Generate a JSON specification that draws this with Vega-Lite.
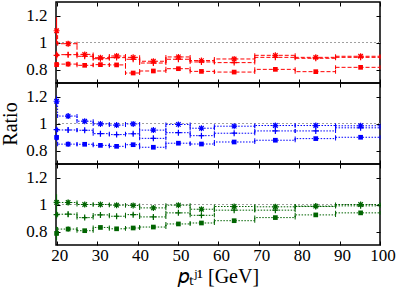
{
  "$schema": "https://vega.github.io/schema/vega-lite/v6.json",
  "background": "white",
  "padding": {"left": 0, "top": 0, "right": 0, "bottom": 0},
  "spacing": 0,
  "bounds": "flush",
  "config": {
    "view": {"stroke": "black", "strokeWidth": 1.5},
    "font": "Liberation Serif",
    "axis": {"labelFont": "Liberation Serif", "labelFontSize": 17, "labelColor": "black", "labelFlush": false, "tickColor": "black", "tickWidth": 1, "titleFont": "Liberation Serif", "titleFontSize": 20, "titleFontWeight": "normal", "titleColor": "black", "grid": false, "domain": false, "minExtent": 0}
  },
  "datasets": {
    "d": [
      {"p":"r","s":"A","lo":19.8,"x":19.95,"hi":20.2,"y":1.087,"ylo":0.987,"yhi":1.187},
      {"p":"r","s":"A","lo":20.2,"x":22.8,"hi":25,"y":0.991,"ylo":0.971,"yhi":1.011},
      {"p":"r","s":"A","lo":25,"x":26.9,"hi":29,"y":0.912,"ylo":0.9,"yhi":0.924},
      {"p":"r","s":"A","lo":29,"x":30.8,"hi":33,"y":0.887,"ylo":0.875,"yhi":0.899},
      {"p":"r","s":"A","lo":33,"x":34.8,"hi":37,"y":0.9,"ylo":0.888,"yhi":0.912},
      {"p":"r","s":"A","lo":37,"x":38.9,"hi":40.5,"y":0.89,"ylo":0.878,"yhi":0.902},
      {"p":"r","s":"A","lo":40.5,"x":43.9,"hi":47,"y":0.861,"ylo":0.849,"yhi":0.873},
      {"p":"r","s":"A","lo":47,"x":50.1,"hi":53,"y":0.893,"ylo":0.881,"yhi":0.905},
      {"p":"r","s":"A","lo":53,"x":55.8,"hi":59,"y":0.866,"ylo":0.858,"yhi":0.874},
      {"p":"r","s":"A","lo":59,"x":63.9,"hi":69,"y":0.878,"ylo":0.87,"yhi":0.886},
      {"p":"r","s":"A","lo":69,"x":74.1,"hi":79,"y":0.905,"ylo":0.897,"yhi":0.913},
      {"p":"r","s":"A","lo":79,"x":84.1,"hi":89,"y":0.89,"ylo":0.882,"yhi":0.898},
      {"p":"r","s":"A","lo":89,"x":95.2,"hi":100,"y":0.898,"ylo":0.89,"yhi":0.906},

      {"p":"r","s":"B","lo":19.8,"x":19.95,"hi":20.2,"y":0.905,"ylo":0.875,"yhi":0.935},
      {"p":"r","s":"B","lo":20.2,"x":22.8,"hi":25,"y":0.91,"ylo":0.89,"yhi":0.93},
      {"p":"r","s":"B","lo":25,"x":26.9,"hi":29,"y":0.898,"ylo":0.886,"yhi":0.91},
      {"p":"r","s":"B","lo":29,"x":30.8,"hi":33,"y":0.88,"ylo":0.868,"yhi":0.892},
      {"p":"r","s":"B","lo":33,"x":34.8,"hi":37,"y":0.888,"ylo":0.876,"yhi":0.9},
      {"p":"r","s":"B","lo":37,"x":38.9,"hi":40.5,"y":0.876,"ylo":0.864,"yhi":0.888},
      {"p":"r","s":"B","lo":40.5,"x":43.9,"hi":47,"y":0.848,"ylo":0.836,"yhi":0.86},
      {"p":"r","s":"B","lo":47,"x":50.1,"hi":53,"y":0.876,"ylo":0.864,"yhi":0.888},
      {"p":"r","s":"B","lo":53,"x":55.8,"hi":59,"y":0.856,"ylo":0.848,"yhi":0.864},
      {"p":"r","s":"B","lo":59,"x":63.9,"hi":69,"y":0.851,"ylo":0.843,"yhi":0.859},
      {"p":"r","s":"B","lo":69,"x":74.1,"hi":79,"y":0.89,"ylo":0.882,"yhi":0.898},
      {"p":"r","s":"B","lo":79,"x":84.1,"hi":89,"y":0.883,"ylo":0.875,"yhi":0.891},
      {"p":"r","s":"B","lo":89,"x":95.2,"hi":100,"y":0.89,"ylo":0.882,"yhi":0.898},

      {"p":"r","s":"C","lo":19.8,"x":19.95,"hi":20.2,"y":0.836,"ylo":0.816,"yhi":0.856},
      {"p":"r","s":"C","lo":20.2,"x":22.8,"hi":25,"y":0.84,"ylo":0.82,"yhi":0.86},
      {"p":"r","s":"C","lo":25,"x":26.9,"hi":29,"y":0.831,"ylo":0.819,"yhi":0.843},
      {"p":"r","s":"C","lo":29,"x":30.8,"hi":33,"y":0.836,"ylo":0.824,"yhi":0.848},
      {"p":"r","s":"C","lo":33,"x":34.8,"hi":37,"y":0.834,"ylo":0.822,"yhi":0.846},
      {"p":"r","s":"C","lo":37,"x":38.9,"hi":40.5,"y":0.774,"ylo":0.762,"yhi":0.786},
      {"p":"r","s":"C","lo":40.5,"x":43.9,"hi":47,"y":0.789,"ylo":0.777,"yhi":0.801},
      {"p":"r","s":"C","lo":47,"x":50.1,"hi":53,"y":0.806,"ylo":0.794,"yhi":0.818},
      {"p":"r","s":"C","lo":53,"x":55.8,"hi":59,"y":0.786,"ylo":0.778,"yhi":0.794},
      {"p":"r","s":"C","lo":59,"x":63.9,"hi":69,"y":0.781,"ylo":0.773,"yhi":0.789},
      {"p":"r","s":"C","lo":69,"x":74.1,"hi":79,"y":0.801,"ylo":0.793,"yhi":0.809},
      {"p":"r","s":"C","lo":79,"x":84.1,"hi":89,"y":0.784,"ylo":0.776,"yhi":0.792},
      {"p":"r","s":"C","lo":89,"x":95.2,"hi":100,"y":0.816,"ylo":0.808,"yhi":0.824},

      {"p":"b","s":"A","lo":19.8,"x":19.95,"hi":20.2,"y":1.165,"ylo":1.125,"yhi":1.205},
      {"p":"b","s":"A","lo":20.2,"x":22.8,"hi":25,"y":1.055,"ylo":1.035,"yhi":1.075},
      {"p":"b","s":"A","lo":25,"x":26.9,"hi":29,"y":1.017,"ylo":1.005,"yhi":1.029},
      {"p":"b","s":"A","lo":29,"x":30.8,"hi":33,"y":0.997,"ylo":0.985,"yhi":1.009},
      {"p":"b","s":"A","lo":33,"x":34.8,"hi":37,"y":0.988,"ylo":0.976,"yhi":1.0},
      {"p":"b","s":"A","lo":37,"x":38.9,"hi":40.5,"y":0.997,"ylo":0.985,"yhi":1.009},
      {"p":"b","s":"A","lo":40.5,"x":43.9,"hi":47,"y":0.951,"ylo":0.939,"yhi":0.963},
      {"p":"b","s":"A","lo":47,"x":50.1,"hi":53,"y":0.993,"ylo":0.981,"yhi":1.005},
      {"p":"b","s":"A","lo":53,"x":55.8,"hi":59,"y":0.965,"ylo":0.957,"yhi":0.973},
      {"p":"b","s":"A","lo":59,"x":63.9,"hi":69,"y":0.98,"ylo":0.972,"yhi":0.988},
      {"p":"b","s":"A","lo":69,"x":74.1,"hi":79,"y":0.985,"ylo":0.977,"yhi":0.993},
      {"p":"b","s":"A","lo":79,"x":84.1,"hi":89,"y":0.985,"ylo":0.977,"yhi":0.993},
      {"p":"b","s":"A","lo":89,"x":95.2,"hi":100,"y":0.983,"ylo":0.975,"yhi":0.991},

      {"p":"b","s":"B","lo":19.8,"x":19.95,"hi":20.2,"y":0.954,"ylo":0.934,"yhi":0.974},
      {"p":"b","s":"B","lo":20.2,"x":22.8,"hi":25,"y":0.952,"ylo":0.932,"yhi":0.972},
      {"p":"b","s":"B","lo":25,"x":26.9,"hi":29,"y":0.95,"ylo":0.938,"yhi":0.962},
      {"p":"b","s":"B","lo":29,"x":30.8,"hi":33,"y":0.925,"ylo":0.913,"yhi":0.937},
      {"p":"b","s":"B","lo":33,"x":34.8,"hi":37,"y":0.918,"ylo":0.906,"yhi":0.93},
      {"p":"b","s":"B","lo":37,"x":38.9,"hi":40.5,"y":0.924,"ylo":0.912,"yhi":0.936},
      {"p":"b","s":"B","lo":40.5,"x":43.9,"hi":47,"y":0.89,"ylo":0.878,"yhi":0.902},
      {"p":"b","s":"B","lo":47,"x":50.1,"hi":53,"y":0.932,"ylo":0.92,"yhi":0.944},
      {"p":"b","s":"B","lo":53,"x":55.8,"hi":59,"y":0.91,"ylo":0.902,"yhi":0.918},
      {"p":"b","s":"B","lo":59,"x":63.9,"hi":69,"y":0.928,"ylo":0.92,"yhi":0.936},
      {"p":"b","s":"B","lo":69,"x":74.1,"hi":79,"y":0.945,"ylo":0.937,"yhi":0.953},
      {"p":"b","s":"B","lo":79,"x":84.1,"hi":89,"y":0.945,"ylo":0.937,"yhi":0.953},
      {"p":"b","s":"B","lo":89,"x":95.2,"hi":100,"y":0.968,"ylo":0.96,"yhi":0.976},

      {"p":"b","s":"C","lo":19.8,"x":19.95,"hi":20.2,"y":0.897,"ylo":0.867,"yhi":0.927},
      {"p":"b","s":"C","lo":20.2,"x":22.8,"hi":25,"y":0.847,"ylo":0.827,"yhi":0.867},
      {"p":"b","s":"C","lo":25,"x":26.9,"hi":29,"y":0.846,"ylo":0.834,"yhi":0.858},
      {"p":"b","s":"C","lo":29,"x":30.8,"hi":33,"y":0.838,"ylo":0.826,"yhi":0.85},
      {"p":"b","s":"C","lo":33,"x":34.8,"hi":37,"y":0.831,"ylo":0.819,"yhi":0.843},
      {"p":"b","s":"C","lo":37,"x":38.9,"hi":40.5,"y":0.843,"ylo":0.831,"yhi":0.855},
      {"p":"b","s":"C","lo":40.5,"x":43.9,"hi":47,"y":0.824,"ylo":0.812,"yhi":0.836},
      {"p":"b","s":"C","lo":47,"x":50.1,"hi":53,"y":0.854,"ylo":0.842,"yhi":0.866},
      {"p":"b","s":"C","lo":53,"x":55.8,"hi":59,"y":0.848,"ylo":0.84,"yhi":0.856},
      {"p":"b","s":"C","lo":59,"x":63.9,"hi":69,"y":0.863,"ylo":0.855,"yhi":0.871},
      {"p":"b","s":"C","lo":69,"x":74.1,"hi":79,"y":0.876,"ylo":0.868,"yhi":0.884},
      {"p":"b","s":"C","lo":79,"x":84.1,"hi":89,"y":0.888,"ylo":0.88,"yhi":0.896},
      {"p":"b","s":"C","lo":89,"x":95.2,"hi":100,"y":0.898,"ylo":0.89,"yhi":0.906},

      {"p":"g","s":"A","lo":19.8,"x":19.95,"hi":20.2,"y":1.016,"ylo":0.956,"yhi":1.076},
      {"p":"g","s":"A","lo":20.2,"x":22.8,"hi":25,"y":1.015,"ylo":0.995,"yhi":1.035},
      {"p":"g","s":"A","lo":25,"x":26.9,"hi":29,"y":1.0,"ylo":0.988,"yhi":1.012},
      {"p":"g","s":"A","lo":29,"x":30.8,"hi":33,"y":1.0,"ylo":0.988,"yhi":1.012},
      {"p":"g","s":"A","lo":33,"x":34.8,"hi":37,"y":0.995,"ylo":0.983,"yhi":1.007},
      {"p":"g","s":"A","lo":37,"x":38.9,"hi":40.5,"y":0.993,"ylo":0.981,"yhi":1.005},
      {"p":"g","s":"A","lo":40.5,"x":43.9,"hi":47,"y":0.975,"ylo":0.963,"yhi":0.987},
      {"p":"g","s":"A","lo":47,"x":50.1,"hi":53,"y":0.995,"ylo":0.983,"yhi":1.007},
      {"p":"g","s":"A","lo":53,"x":55.8,"hi":59,"y":0.965,"ylo":0.957,"yhi":0.973},
      {"p":"g","s":"A","lo":59,"x":63.9,"hi":69,"y":0.985,"ylo":0.977,"yhi":0.993},
      {"p":"g","s":"A","lo":69,"x":74.1,"hi":79,"y":0.983,"ylo":0.975,"yhi":0.991},
      {"p":"g","s":"A","lo":79,"x":84.1,"hi":89,"y":0.988,"ylo":0.98,"yhi":0.996},
      {"p":"g","s":"A","lo":89,"x":95.2,"hi":100,"y":1.0,"ylo":0.992,"yhi":1.008},

      {"p":"g","s":"B","lo":19.8,"x":19.95,"hi":20.2,"y":0.925,"ylo":0.895,"yhi":0.955},
      {"p":"g","s":"B","lo":20.2,"x":22.8,"hi":25,"y":0.928,"ylo":0.908,"yhi":0.948},
      {"p":"g","s":"B","lo":25,"x":26.9,"hi":29,"y":0.903,"ylo":0.891,"yhi":0.915},
      {"p":"g","s":"B","lo":29,"x":30.8,"hi":33,"y":0.923,"ylo":0.911,"yhi":0.935},
      {"p":"g","s":"B","lo":33,"x":34.8,"hi":37,"y":0.913,"ylo":0.901,"yhi":0.925},
      {"p":"g","s":"B","lo":37,"x":38.9,"hi":40.5,"y":0.925,"ylo":0.913,"yhi":0.937},
      {"p":"g","s":"B","lo":40.5,"x":43.9,"hi":47,"y":0.908,"ylo":0.896,"yhi":0.92},
      {"p":"g","s":"B","lo":47,"x":50.1,"hi":53,"y":0.938,"ylo":0.926,"yhi":0.95},
      {"p":"g","s":"B","lo":53,"x":55.8,"hi":59,"y":0.92,"ylo":0.912,"yhi":0.928},
      {"p":"g","s":"B","lo":59,"x":63.9,"hi":69,"y":0.958,"ylo":0.95,"yhi":0.966},
      {"p":"g","s":"B","lo":69,"x":74.1,"hi":79,"y":0.958,"ylo":0.95,"yhi":0.966},
      {"p":"g","s":"B","lo":79,"x":84.1,"hi":89,"y":0.985,"ylo":0.977,"yhi":0.993},
      {"p":"g","s":"B","lo":89,"x":95.2,"hi":100,"y":0.99,"ylo":0.982,"yhi":0.998},

      {"p":"g","s":"C","lo":19.8,"x":19.95,"hi":20.2,"y":0.786,"ylo":0.736,"yhi":0.836},
      {"p":"g","s":"C","lo":20.2,"x":22.8,"hi":25,"y":0.818,"ylo":0.798,"yhi":0.838},
      {"p":"g","s":"C","lo":25,"x":26.9,"hi":29,"y":0.806,"ylo":0.794,"yhi":0.818},
      {"p":"g","s":"C","lo":29,"x":30.8,"hi":33,"y":0.83,"ylo":0.818,"yhi":0.842},
      {"p":"g","s":"C","lo":33,"x":34.8,"hi":37,"y":0.82,"ylo":0.808,"yhi":0.832},
      {"p":"g","s":"C","lo":37,"x":38.9,"hi":40.5,"y":0.826,"ylo":0.814,"yhi":0.838},
      {"p":"g","s":"C","lo":40.5,"x":43.9,"hi":47,"y":0.833,"ylo":0.821,"yhi":0.845},
      {"p":"g","s":"C","lo":47,"x":50.1,"hi":53,"y":0.856,"ylo":0.844,"yhi":0.868},
      {"p":"g","s":"C","lo":53,"x":55.8,"hi":59,"y":0.863,"ylo":0.855,"yhi":0.871},
      {"p":"g","s":"C","lo":59,"x":63.9,"hi":69,"y":0.88,"ylo":0.872,"yhi":0.888},
      {"p":"g","s":"C","lo":69,"x":74.1,"hi":79,"y":0.903,"ylo":0.895,"yhi":0.911},
      {"p":"g","s":"C","lo":79,"x":84.1,"hi":89,"y":0.923,"ylo":0.915,"yhi":0.931},
      {"p":"g","s":"C","lo":89,"x":95.2,"hi":100,"y":0.938,"ylo":0.93,"yhi":0.946}
    ]
  },
  "vconcat": [
    {
      "width": 324, "height": 81,
      "data": {"name": "d"},
      "transform": [{"filter": "datum.p == 'r'"}],
      "layer": [
        {"mark": {"type": "rule", "color": "#a0a0a0", "strokeDash": [2, 2], "strokeWidth": 1},
         "encoding": {"y": {"datum": 1, "type": "quantitative", "scale": {"domain": [0.7, 1.3], "nice": false, "zero": false}, "axis": null}}},
        {"mark": {"type": "line", "interpolate": "step-after", "color": "#ff0000", "strokeDash": [4, 2], "strokeWidth": 1},
         "encoding": {"x": {"field": "lo", "type": "quantitative", "scale": {"domain": [19.8, 100], "nice": false, "zero": false}, "axis": null},
                      "y": {"field": "y", "type": "quantitative", "scale": {"domain": [0.7, 1.3], "nice": false, "zero": false}, "axis": null},
                      "detail": {"field": "s"}}},
        {"transform": [{"filter": "datum.hi >= 100"}],
         "mark": {"type": "rule", "color": "#ff0000", "strokeDash": [4, 2], "strokeWidth": 1},
         "encoding": {"x": {"field": "lo", "type": "quantitative", "scale": {"domain": [19.8, 100], "nice": false, "zero": false}, "axis": null}, "x2": {"field": "hi"},
                      "y": {"field": "y", "type": "quantitative", "scale": {"domain": [0.7, 1.3], "nice": false, "zero": false}, "axis": null}}},
        {"mark": {"type": "tick", "orient": "vertical", "color": "#ff0000", "size": 4, "thickness": 1, "opacity": 1},
         "encoding": {"x": {"field": "lo", "type": "quantitative", "scale": {"domain": [19.8, 100], "nice": false, "zero": false}, "axis": null}, "y": {"field": "y", "type": "quantitative", "scale": {"domain": [0.7, 1.3], "nice": false, "zero": false}, "axis": null}}},
        {"mark": {"type": "tick", "orient": "vertical", "color": "#ff0000", "size": 4, "thickness": 1, "opacity": 1},
         "encoding": {"x": {"field": "hi", "type": "quantitative", "scale": {"domain": [19.8, 100], "nice": false, "zero": false}, "axis": null}, "y": {"field": "y", "type": "quantitative", "scale": {"domain": [0.7, 1.3], "nice": false, "zero": false}, "axis": null}}},
        {"mark": {"type": "rule", "color": "#ff0000", "strokeWidth": 1},
         "encoding": {"x": {"field": "x", "type": "quantitative", "scale": {"domain": [19.8, 100], "nice": false, "zero": false}, "axis": null}, "y": {"field": "ylo", "type": "quantitative", "scale": {"domain": [0.7, 1.3], "nice": false, "zero": false}, "axis": null}, "y2": {"field": "yhi"}}},
        {"transform": [{"filter": "datum.s != 'C'"}],
         "mark": {"type": "point", "filled": false, "color": "#ff0000", "strokeWidth": 1.2, "size": 36, "opacity": 1},
         "encoding": {"x": {"field": "x", "type": "quantitative", "scale": {"domain": [19.8, 100], "nice": false, "zero": false}, "axis": null}, "y": {"field": "y", "type": "quantitative", "scale": {"domain": [0.7, 1.3], "nice": false, "zero": false}, "axis": null},
                      "shape": {"field": "s", "type": "nominal", "legend": null, "scale": {"domain": ["A", "B"], "range": ["M-1,0L1,0M0,-1L0,1M-0.75,-0.75L0.75,0.75M-0.75,0.75L0.75,-0.75", "M-1,0L1,0M0,-1L0,1"]}}}},
        {"transform": [{"filter": "datum.s == 'C'"}],
         "mark": {"type": "square", "filled": true, "color": "#ff0000", "size": 22, "opacity": 1},
         "encoding": {"x": {"field": "x", "type": "quantitative", "scale": {"domain": [19.8, 100], "nice": false, "zero": false}, "axis": {"orient": "bottom", "values": [20, 30, 40, 50, 60, 70, 80, 90, 100], "labels": false, "title": null, "tickSize": -4}},
                      "y": {"field": "y", "type": "quantitative", "scale": {"domain": [0.7, 1.3], "nice": false, "zero": false}, "axis": {"orient": "left", "values": [0.8, 1, 1.2], "format": "~g", "title": null, "tickSize": -4, "labelPadding": 13, "labelFont": "Liberation Serif", "labelFontSize": 17}}}},
        {"mark": {"type": "point", "opacity": 0},
         "encoding": {"x": {"field": "x", "type": "quantitative", "scale": {"domain": [19.8, 100], "nice": false, "zero": false}, "axis": {"orient": "top", "values": [20, 30, 40, 50, 60, 70, 80, 90, 100], "labels": false, "title": null, "tickSize": -4}},
                      "y": {"field": "y", "type": "quantitative", "scale": {"domain": [0.7, 1.3], "nice": false, "zero": false}, "axis": {"orient": "right", "values": [0.8, 1, 1.2], "labels": false, "title": null, "tickSize": -4}}}}
      ],
      "resolve": {"axis": {"x": "independent", "y": "independent"}}
    },
    {
      "width": 324, "height": 81,
      "data": {"name": "d"},
      "transform": [{"filter": "datum.p == 'b'"}],
      "layer": [
        {"mark": {"type": "rule", "color": "#a0a0a0", "strokeDash": [2, 2], "strokeWidth": 1},
         "encoding": {"y": {"datum": 1, "type": "quantitative", "scale": {"domain": [0.7, 1.3], "nice": false, "zero": false}, "axis": null}}},
        {"mark": {"type": "line", "interpolate": "step-after", "color": "#0000ff", "strokeDash": [1.5, 1.5], "strokeWidth": 1},
         "encoding": {"x": {"field": "lo", "type": "quantitative", "scale": {"domain": [19.8, 100], "nice": false, "zero": false}, "axis": null},
                      "y": {"field": "y", "type": "quantitative", "scale": {"domain": [0.7, 1.3], "nice": false, "zero": false}, "axis": null},
                      "detail": {"field": "s"}}},
        {"transform": [{"filter": "datum.hi >= 100"}],
         "mark": {"type": "rule", "color": "#0000ff", "strokeDash": [1.5, 1.5], "strokeWidth": 1},
         "encoding": {"x": {"field": "lo", "type": "quantitative", "scale": {"domain": [19.8, 100], "nice": false, "zero": false}, "axis": null}, "x2": {"field": "hi"},
                      "y": {"field": "y", "type": "quantitative", "scale": {"domain": [0.7, 1.3], "nice": false, "zero": false}, "axis": null}}},
        {"mark": {"type": "tick", "orient": "vertical", "color": "#0000ff", "size": 4, "thickness": 1, "opacity": 1},
         "encoding": {"x": {"field": "lo", "type": "quantitative", "scale": {"domain": [19.8, 100], "nice": false, "zero": false}, "axis": null}, "y": {"field": "y", "type": "quantitative", "scale": {"domain": [0.7, 1.3], "nice": false, "zero": false}, "axis": null}}},
        {"mark": {"type": "tick", "orient": "vertical", "color": "#0000ff", "size": 4, "thickness": 1, "opacity": 1},
         "encoding": {"x": {"field": "hi", "type": "quantitative", "scale": {"domain": [19.8, 100], "nice": false, "zero": false}, "axis": null}, "y": {"field": "y", "type": "quantitative", "scale": {"domain": [0.7, 1.3], "nice": false, "zero": false}, "axis": null}}},
        {"mark": {"type": "rule", "color": "#0000ff", "strokeWidth": 1},
         "encoding": {"x": {"field": "x", "type": "quantitative", "scale": {"domain": [19.8, 100], "nice": false, "zero": false}, "axis": null}, "y": {"field": "ylo", "type": "quantitative", "scale": {"domain": [0.7, 1.3], "nice": false, "zero": false}, "axis": null}, "y2": {"field": "yhi"}}},
        {"transform": [{"filter": "datum.s != 'C'"}],
         "mark": {"type": "point", "filled": false, "color": "#0000ff", "strokeWidth": 1.2, "size": 36, "opacity": 1},
         "encoding": {"x": {"field": "x", "type": "quantitative", "scale": {"domain": [19.8, 100], "nice": false, "zero": false}, "axis": null}, "y": {"field": "y", "type": "quantitative", "scale": {"domain": [0.7, 1.3], "nice": false, "zero": false}, "axis": null},
                      "shape": {"field": "s", "type": "nominal", "legend": null, "scale": {"domain": ["A", "B"], "range": ["M-1,0L1,0M0,-1L0,1M-0.75,-0.75L0.75,0.75M-0.75,0.75L0.75,-0.75", "M-1,0L1,0M0,-1L0,1"]}}}},
        {"transform": [{"filter": "datum.s == 'C'"}],
         "mark": {"type": "square", "filled": true, "color": "#0000ff", "size": 22, "opacity": 1},
         "encoding": {"x": {"field": "x", "type": "quantitative", "scale": {"domain": [19.8, 100], "nice": false, "zero": false}, "axis": {"orient": "bottom", "values": [20, 30, 40, 50, 60, 70, 80, 90, 100], "labels": false, "title": null, "tickSize": -4}},
                      "y": {"field": "y", "type": "quantitative", "scale": {"domain": [0.7, 1.3], "nice": false, "zero": false}, "axis": {"orient": "left", "values": [0.8, 1, 1.2], "format": "~g", "title": "Ratio", "titlePadding": 5, "tickSize": -4, "labelPadding": 13, "labelFont": "Liberation Serif", "labelFontSize": 17}}}},
        {"mark": {"type": "point", "opacity": 0},
         "encoding": {"x": {"field": "x", "type": "quantitative", "scale": {"domain": [19.8, 100], "nice": false, "zero": false}, "axis": {"orient": "top", "values": [20, 30, 40, 50, 60, 70, 80, 90, 100], "labels": false, "title": null, "tickSize": -4}},
                      "y": {"field": "y", "type": "quantitative", "scale": {"domain": [0.7, 1.3], "nice": false, "zero": false}, "axis": {"orient": "right", "values": [0.8, 1, 1.2], "labels": false, "title": null, "tickSize": -4}}}}
      ],
      "resolve": {"axis": {"x": "independent", "y": "independent"}}
    },
    {
      "width": 324, "height": 81,
      "data": {"name": "d"},
      "transform": [{"filter": "datum.p == 'g'"}],
      "layer": [
        {"mark": {"type": "rule", "color": "#a0a0a0", "strokeDash": [2, 2], "strokeWidth": 1},
         "encoding": {"y": {"datum": 1, "type": "quantitative", "scale": {"domain": [0.7, 1.3], "nice": false, "zero": false}, "axis": null}}},
        {"mark": {"type": "line", "interpolate": "step-after", "color": "#006400", "strokeDash": [1.5, 1.5], "strokeWidth": 1},
         "encoding": {"x": {"field": "lo", "type": "quantitative", "scale": {"domain": [19.8, 100], "nice": false, "zero": false}, "axis": null},
                      "y": {"field": "y", "type": "quantitative", "scale": {"domain": [0.7, 1.3], "nice": false, "zero": false}, "axis": null},
                      "detail": {"field": "s"}}},
        {"transform": [{"filter": "datum.hi >= 100"}],
         "mark": {"type": "rule", "color": "#006400", "strokeDash": [1.5, 1.5], "strokeWidth": 1},
         "encoding": {"x": {"field": "lo", "type": "quantitative", "scale": {"domain": [19.8, 100], "nice": false, "zero": false}, "axis": null}, "x2": {"field": "hi"},
                      "y": {"field": "y", "type": "quantitative", "scale": {"domain": [0.7, 1.3], "nice": false, "zero": false}, "axis": null}}},
        {"mark": {"type": "tick", "orient": "vertical", "color": "#006400", "size": 4, "thickness": 1, "opacity": 1},
         "encoding": {"x": {"field": "lo", "type": "quantitative", "scale": {"domain": [19.8, 100], "nice": false, "zero": false}, "axis": null}, "y": {"field": "y", "type": "quantitative", "scale": {"domain": [0.7, 1.3], "nice": false, "zero": false}, "axis": null}}},
        {"mark": {"type": "tick", "orient": "vertical", "color": "#006400", "size": 4, "thickness": 1, "opacity": 1},
         "encoding": {"x": {"field": "hi", "type": "quantitative", "scale": {"domain": [19.8, 100], "nice": false, "zero": false}, "axis": null}, "y": {"field": "y", "type": "quantitative", "scale": {"domain": [0.7, 1.3], "nice": false, "zero": false}, "axis": null}}},
        {"mark": {"type": "rule", "color": "#006400", "strokeWidth": 1},
         "encoding": {"x": {"field": "x", "type": "quantitative", "scale": {"domain": [19.8, 100], "nice": false, "zero": false}, "axis": null}, "y": {"field": "ylo", "type": "quantitative", "scale": {"domain": [0.7, 1.3], "nice": false, "zero": false}, "axis": null}, "y2": {"field": "yhi"}}},
        {"transform": [{"filter": "datum.s != 'C'"}],
         "mark": {"type": "point", "filled": false, "color": "#006400", "strokeWidth": 1.2, "size": 36, "opacity": 1},
         "encoding": {"x": {"field": "x", "type": "quantitative", "scale": {"domain": [19.8, 100], "nice": false, "zero": false}, "axis": null}, "y": {"field": "y", "type": "quantitative", "scale": {"domain": [0.7, 1.3], "nice": false, "zero": false}, "axis": null},
                      "shape": {"field": "s", "type": "nominal", "legend": null, "scale": {"domain": ["A", "B"], "range": ["M-1,0L1,0M0,-1L0,1M-0.75,-0.75L0.75,0.75M-0.75,0.75L0.75,-0.75", "M-1,0L1,0M0,-1L0,1"]}}}},
        {"transform": [{"filter": "datum.s == 'C'"}],
         "mark": {"type": "square", "filled": true, "color": "#006400", "size": 22, "opacity": 1},
         "encoding": {"x": {"field": "x", "type": "quantitative", "scale": {"domain": [19.8, 100], "nice": false, "zero": false}, "axis": {"orient": "bottom", "values": [20, 30, 40, 50, 60, 70, 80, 90, 100], "labels": true, "title": "𝑝ₜʲ¹ [GeV]", "titlePadding": 3, "tickSize": -4, "labelPadding": 6, "labelOffset": 2.5, "labelFlush": false, "labelFont": "Liberation Serif", "labelFontSize": 17}},
                      "y": {"field": "y", "type": "quantitative", "scale": {"domain": [0.7, 1.3], "nice": false, "zero": false}, "axis": {"orient": "left", "values": [0.8, 1, 1.2], "format": "~g", "title": null, "tickSize": -4, "labelPadding": 13, "labelFont": "Liberation Serif", "labelFontSize": 17}}}},
        {"mark": {"type": "point", "opacity": 0},
         "encoding": {"x": {"field": "x", "type": "quantitative", "scale": {"domain": [19.8, 100], "nice": false, "zero": false}, "axis": {"orient": "top", "values": [20, 30, 40, 50, 60, 70, 80, 90, 100], "labels": false, "title": null, "tickSize": -4}},
                      "y": {"field": "y", "type": "quantitative", "scale": {"domain": [0.7, 1.3], "nice": false, "zero": false}, "axis": {"orient": "right", "values": [0.8, 1, 1.2], "labels": false, "title": null, "tickSize": -4}}}}
      ],
      "resolve": {"axis": {"x": "independent", "y": "independent"}}
    }
  ]
}
